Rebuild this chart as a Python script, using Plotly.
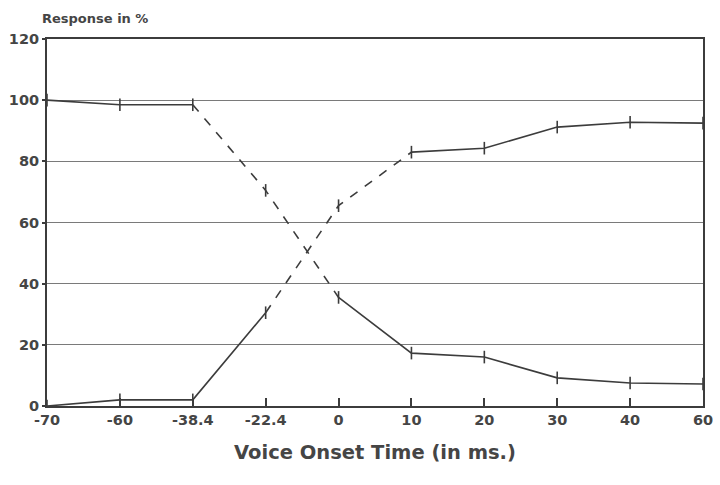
import plotly.graph_objects as go

# Voice onset time continuum (ms) and identification responses (%)
vot_labels = ["-70", "-60", "-38.4", "-22.4", "0", "10", "20", "30", "40", "60"]
resp_voiced = [100, 98.5, 98.5, 70.5, 35.5, 17.3, 16, 9.2, 7.5, 7.2]
resp_voiceless = [0, 2, 2, 30.5, 65.5, 83, 84.3, 91.2, 92.8, 92.5]

y_ticks = [0, 20, 40, 60, 80, 100, 120]

ink = "#3c3c3c"
grid = "#7a7a7a"
text_col = "#454545"
font_family = "DejaVu Sans, Verdana, sans-serif"

fig = go.Figure()


def add_curve(values, dash_from, dash_to):
    """Draw a response curve: solid outer parts, dashed middle transition."""
    pieces = [
        (0, dash_from, "solid"),
        (dash_from, dash_to, "dash"),
        (dash_to, len(values) - 1, "solid"),
    ]
    for a, b, style in pieces:
        fig.add_trace(go.Scatter(
            x=vot_labels[a:b + 1],
            y=values[a:b + 1],
            mode="lines",
            line=dict(color=ink, width=1.6, dash=style),
            hoverinfo="skip",
            showlegend=False,
        ))
    fig.add_trace(go.Scatter(
        x=vot_labels,
        y=values,
        mode="markers",
        marker=dict(symbol="line-ns-open", size=9, color=ink,
                    line=dict(color=ink, width=1.6)),
        showlegend=False,
    ))


add_curve(resp_voiced, 2, 4)
add_curve(resp_voiceless, 3, 5)

fig.update_layout(
    width=720,
    height=485,
    margin=dict(l=47, r=17, t=39, b=79),
    paper_bgcolor="white",
    plot_bgcolor="white",
    font=dict(family=font_family, color=text_col, size=14),
    xaxis=dict(
        type="category",
        categoryorder="array",
        categoryarray=vot_labels,
        range=[0, len(vot_labels) - 1],
        automargin=False,
        tickvals=vot_labels,
        ticktext=[f"<b>{v}</b>" for v in vot_labels],
        tickfont=dict(size=14.5, family=font_family, color=text_col),
        ticks="inside",
        ticklen=8,
        tickwidth=1.5,
        tickcolor=ink,
        showline=True,
        linecolor=ink,
        linewidth=2,
        mirror=True,
        showgrid=False,
        zeroline=False,
        title=dict(
            text="<b>Voice Onset Time (in ms.)</b>",
            font=dict(size=19.5, family=font_family, color=text_col),
            standoff=18,
        ),
    ),
    yaxis=dict(
        range=[0, 120],
        automargin=False,
        tickvals=y_ticks,
        ticktext=[f"<b>{v}</b>" for v in y_ticks],
        tickfont=dict(size=14.5, family=font_family, color=text_col),
        ticks="outside",
        ticklen=3,
        tickwidth=1.5,
        tickcolor=ink,
        showline=True,
        linecolor=ink,
        linewidth=2,
        mirror=True,
        showgrid=True,
        gridcolor=grid,
        gridwidth=1,
        zeroline=False,
    ),
    annotations=[
        dict(
            text="<b>Response in %</b>",
            xref="paper", yref="paper",
            x=-0.01, y=1.0,
            xanchor="left", yanchor="bottom",
            yshift=11,
            showarrow=False,
            font=dict(size=13, family=font_family, color=text_col),
        )
    ],
)

fig.write_html("out.html")
